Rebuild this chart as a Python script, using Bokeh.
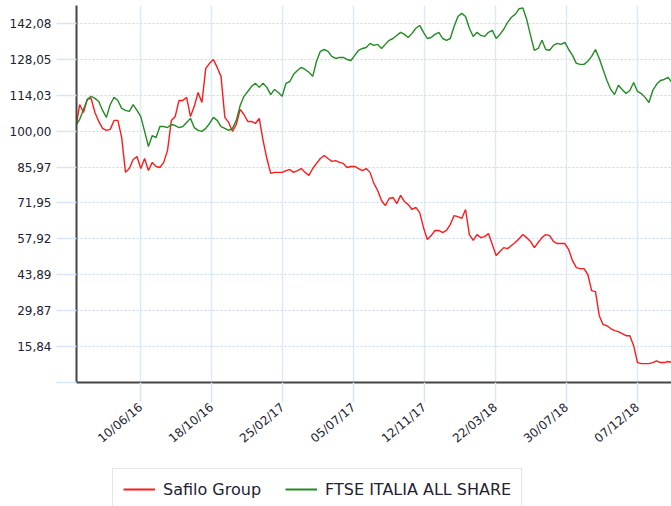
import datetime as dt
import numpy as np
import pandas as pd
from bokeh.plotting import figure
from bokeh.layouts import column
from bokeh.models import (FixedTicker, Legend, LegendItem, DatetimeTickFormatter,
                          Range1d, ColumnDataSource)
from bokeh.embed import file_html
from bokeh.resources import INLINE

# ---- data (weekly closes, rebased to 100) ----
start_date = "2016-02-12"
safilo = [101.4, 110.4, 107.3, 112.4, 112.8, 107.3, 103.8, 101.1, 100.3, 100.7,
          104.2, 104.2, 97.5, 83.9, 85.4, 88.9, 90.1, 85.4, 89.3, 84.6,
          87.8, 86.2, 85.8, 87.8, 92.5, 104.2, 105.7, 112.0, 112.0, 113.2,
          105.7, 109.7, 115.1, 111.2, 124.5, 126.5, 128.0, 124.9, 121.4, 105.4,
          103.4, 99.9, 102.6, 108.5, 106.5, 103.8, 103.8, 103.0, 105.0, 96.4,
          89.3, 83.5, 83.9, 83.9, 83.9, 84.6, 85.0, 83.9, 84.6, 85.4,
          83.9, 82.7, 85.4, 87.4, 89.3, 90.5, 89.3, 88.2, 88.5, 87.8,
          87.4, 85.8, 86.2, 86.2, 85.4, 84.6, 85.4, 83.9, 79.6, 76.8,
          72.9, 70.9, 73.7, 74.1, 71.7, 74.9, 72.5, 71.3, 69.4, 70.2,
          68.2, 62.3, 57.7, 59.2, 61.2, 61.2, 60.4, 61.2, 63.5, 67.0,
          66.6, 65.9, 69.4, 59.6, 57.3, 59.6, 58.4, 58.8, 60.0, 55.7,
          51.4, 53.0, 54.5, 54.1, 55.3, 56.5, 58.0, 59.6, 58.4, 56.9,
          54.5, 56.5, 58.4, 59.6, 59.2, 56.9, 56.1, 56.1, 56.1, 53.7,
          49.4, 46.7, 46.3, 46.3, 44.0, 37.7, 37.3, 27.9, 24.4, 24.0,
          22.9, 22.1, 21.7, 20.9, 20.1, 20.1, 16.2, 9.6, 9.2, 9.2,
          9.2, 9.6, 10.3, 9.6, 9.6, 10.0, 9.6]
ftse = [102.2, 104.6, 108.5, 112.4, 113.6, 112.8, 111.6, 108.1, 105.4, 110.4,
        113.2, 112.0, 108.9, 108.1, 107.7, 110.4, 108.1, 105.7, 99.9, 94.0,
        98.3, 97.5, 101.8, 101.8, 101.4, 102.6, 102.2, 101.4, 101.8, 103.4,
        105.0, 101.4, 100.3, 99.9, 101.1, 103.0, 105.4, 104.2, 101.8, 101.1,
        100.3, 101.1, 104.2, 110.0, 113.6, 115.5, 117.5, 118.7, 117.1, 118.7,
        117.1, 114.3, 116.3, 115.1, 113.6, 118.7, 119.4, 122.2, 123.7, 124.9,
        124.1, 123.0, 121.4, 127.3, 131.2, 131.9, 131.2, 129.2, 128.4, 128.8,
        128.8, 128.0, 127.6, 129.6, 131.6, 132.3, 132.7, 134.3, 133.5, 133.9,
        132.3, 133.9, 135.5, 136.2, 137.4, 138.6, 137.8, 136.6, 138.2, 140.2,
        141.3, 138.6, 136.2, 136.6, 137.8, 138.6, 136.2, 135.5, 136.2, 140.9,
        144.8, 146.0, 144.8, 140.2, 137.0, 138.6, 137.4, 137.0, 138.6, 139.4,
        136.2, 137.8, 139.8, 142.5, 144.5, 145.6, 147.8, 148.1, 143.7, 137.4,
        131.6, 132.3, 135.5, 131.9, 131.6, 133.5, 134.3, 133.9, 134.7, 131.9,
        129.6, 126.5, 126.1, 126.1, 127.3, 129.2, 131.9, 128.4, 124.1, 119.8,
        116.3, 114.3, 117.9, 116.3, 114.7, 115.9, 119.0, 115.5, 114.7, 113.2,
        111.2, 115.9, 118.3, 119.8, 120.2, 121.0, 119.0]
series_names = ["Safilo Group", "FTSE ITALIA ALL SHARE"]
series_colors = ["#ff1a1a", "#238b23"]
x_tick_dates = ["2016-06-10", "2016-10-18", "2017-02-25", "2017-07-05",
                "2017-11-12", "2018-03-22", "2018-07-30", "2018-12-07"]
y_tick_labels = ["15,84", "29,87", "43,89", "57,92", "71,95", "85,97",
                 "100,00", "114,03", "128,05", "142,08"]
y_floor = 1.81
y_ceiling = 149.09

dates = pd.date_range(start_date, periods=len(safilo), freq="7D")
src = ColumnDataSource(dict(date=dates, safilo=safilo, ftse=ftse))

x_start = dt.datetime(2016, 2, 13, 5, 0)
x_end = x_start + dt.timedelta(days=1090.1)

p = figure(width=671, height=462, x_axis_type="datetime",
           output_backend="svg", toolbar_location=None,
           x_range=Range1d(x_start, x_end), y_range=Range1d(y_floor, y_ceiling),
           min_border_left=76, min_border_right=0, min_border_top=5,
           min_border_bottom=80, background_fill_color="white",
           border_fill_color="white", outline_line_color=None)

p.line("date", "safilo", source=src, line_color=series_colors[0], line_width=1.4)
p.line("date", "ftse", source=src, line_color=series_colors[1], line_width=1.4)

# x axis
x_ticks_ms = [pd.Timestamp(d).value // 10**6 for d in x_tick_dates]
xt = FixedTicker(ticks=x_ticks_ms)
p.xaxis.ticker = xt
p.xgrid.ticker = xt
p.xaxis.formatter = DatetimeTickFormatter(
    milliseconds="%d/%m/%y", seconds="%d/%m/%y", minsec="%d/%m/%y",
    minutes="%d/%m/%y", hourmin="%d/%m/%y", hours="%d/%m/%y",
    days="%d/%m/%y", months="%d/%m/%y", years="%d/%m/%y")
p.xaxis.major_label_orientation = 0.7

# y axis
y_vals = [float(s.replace(",", ".")) for s in y_tick_labels]
yt = FixedTicker(ticks=[y_floor] + y_vals)
p.yaxis.ticker = yt
p.ygrid.ticker = yt
overrides = {y_floor: ""}
for v, s in zip(y_vals, y_tick_labels):
    overrides[v] = s
p.yaxis.major_label_overrides = overrides

for ax in (p.xaxis[0], p.yaxis[0]):
    ax.axis_line_color = "#444444"
    ax.axis_line_width = 2
    ax.major_tick_line_color = "#d6e5f7"
    ax.major_tick_line_width = 1.5
    ax.major_tick_out = 20
    ax.major_tick_in = 0
    ax.minor_tick_line_color = None
    ax.major_label_text_font = "DejaVu Sans"
    ax.major_label_text_font_size = "12px"
    ax.major_label_text_color = "#222233"
p.xaxis.major_label_standoff = 3
p.yaxis.major_label_standoff = 5

p.xgrid.grid_line_color = "#dce9f8"
p.xgrid.grid_line_width = 1.5
p.ygrid.grid_line_color = "#c6daf2"
p.ygrid.grid_line_dash = "2 2"
p.ygrid.grid_line_width = 1

# ---- legend strip below the chart ----
lg = figure(width=671, height=44, output_backend="svg", toolbar_location=None,
            x_axis_type=None, y_axis_type=None, min_border=0,
            x_range=Range1d(0, 1), y_range=Range1d(0, 1),
            outline_line_color=None, border_fill_color="white",
            background_fill_color="white")
# keys drawn off-range, only used for the legend swatches
k1 = lg.line(x=[-5, -4], y=[-5, -4], line_color=series_colors[0], line_width=2)
k2 = lg.line(x=[-5, -4], y=[-5, -4], line_color=series_colors[1], line_width=2)
legend = Legend(items=[LegendItem(label=series_names[0], renderers=[k1]),
                       LegendItem(label=series_names[1], renderers=[k2])],
                orientation="horizontal", location=(36, -4),
                label_text_font="DejaVu Sans", label_text_font_size="16px",
                label_text_color="#222233", glyph_width=32, glyph_height=20,
                label_standoff=8, spacing=24, padding=10, margin=0,
                border_line_color="#cccccc", border_line_width=1,
                background_fill_color="white", background_fill_alpha=1.0)
lg.add_layout(legend)

page = column(p, lg, spacing=0)
open("out.html", "w").write(file_html(page, INLINE))
